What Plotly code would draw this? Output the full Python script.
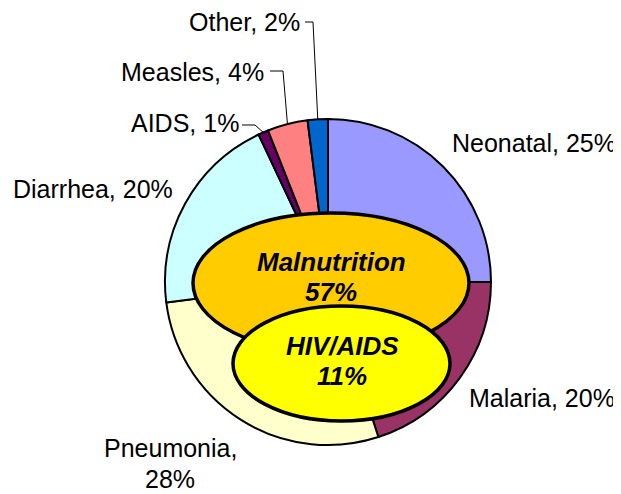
import math

import plotly.graph_objects as go

# child death causes (outer ring)
causes = ["Neonatal", "Malaria", "Pneumonia", "Diarrhea", "AIDS", "Measles", "Other"]
shares = [25, 20, 28, 20, 1, 4, 2]
slice_colors = ["#9999FF", "#993366", "#FFFFCC", "#CCFFFF", "#660066", "#FF8080", "#0066CC"]

# underlying factors (ellipses in the middle)
factors = ["Malnutrition", "HIV/AIDS"]
factor_shares = [57, 11]
factor_colors = ["#FFCC00", "#FFFF00"]

W, H = 621, 494
PAD = 8  # page body margin, the figure starts 8px in
CX, CY, R = 328, 282, 163
FONT = "Liberation Sans, Arial, sans-serif"


def edge_point(idx):
    """Point on the pie rim at the middle of slice idx (clockwise from 12 o'clock)."""
    total = sum(shares)
    frac = (sum(shares[:idx]) + shares[idx] / 2) / total
    ang = 2 * math.pi * frac
    return CX + R * math.sin(ang), CY - R * math.cos(ang)


FW, FH = W - PAD, H - PAD

fig = go.Figure()

fig.add_trace(
    go.Pie(
        labels=causes,
        values=shares,
        sort=False,
        direction="clockwise",
        rotation=0,
        textinfo="none",
        hoverinfo="label+percent",
        marker=dict(colors=slice_colors, line=dict(color="black", width=2)),
        domain=dict(
            x=[(CX - R - PAD) / FW, (CX + R - PAD) / FW],
            y=[(H - CY - R) / FH, (H - CY + R) / FH],
        ),
        showlegend=False,
    )
)

# outer labels, one entry per text line: (x, y) in page pixels
label_lines = {
    "Neonatal": [(534, 143)],
    "Malaria": [(542, 398)],
    "Pneumonia": [(170, 448), (170, 479)],
    "Diarrhea": [(93, 189)],
    "AIDS": [(185, 123)],
    "Measles": [(192, 72)],
    "Other": [(244, 22)],
}
for name, val in zip(causes, shares):
    pos = label_lines[name]
    texts = [f"{name}, {val}%"] if len(pos) == 1 else [f"{name},", f"{val}%"]
    for (x, y), t in zip(pos, texts):
        fig.add_annotation(
            x=x, y=y, xref="x", yref="y",
            text=t,
            showarrow=False,
            font=dict(family=FONT, size=25, color="black"),
            xanchor="center", yanchor="middle",
        )

# leader lines for the small slices: label end -> elbow -> rim
leader_start = {"AIDS": (242, 125, 255), "Measles": (270, 71, 283), "Other": (305, 22, 313)}
for name, (x0, y0, xe) in leader_start.items():
    ex, ey = edge_point(causes.index(name))
    fig.add_shape(type="line", x0=x0, y0=y0, x1=xe, y1=y0, xref="x", yref="y",
                  line=dict(color="black", width=1))
    fig.add_shape(type="line", x0=xe, y0=y0, x1=ex, y1=ey, xref="x", yref="y",
                  line=dict(color="black", width=1))

# ellipses for underlying factors
ellipse_box = [(193, 213, 469, 353), (233, 306, 450, 421)]
text_rows = [(331, 262, 292), (342, 346, 376)]
for name, val, col, (x0, y0, x1, y1), (tx, ty1, ty2) in zip(
    factors, factor_shares, factor_colors, ellipse_box, text_rows
):
    fig.add_shape(type="circle", x0=x0, y0=y0, x1=x1, y1=y1, xref="x", yref="y",
                  fillcolor=col, line=dict(color="black", width=3.5))
    for t, ty in ((name, ty1), (f"{val}%", ty2)):
        fig.add_annotation(
            x=tx, y=ty, xref="x", yref="y",
            text=f"<b><i>{t}</i></b>",
            showarrow=False,
            font=dict(family=FONT, size=26, color="black"),
            xanchor="center", yanchor="middle",
        )

fig.update_layout(
    width=FW,
    height=FH,
    margin=dict(l=0, r=0, t=0, b=0),
    paper_bgcolor="white",
    plot_bgcolor="white",
    xaxis=dict(range=[PAD, W], visible=False, fixedrange=True),
    yaxis=dict(range=[H, PAD], visible=False, fixedrange=True),
)

fig.write_html("out.html")
